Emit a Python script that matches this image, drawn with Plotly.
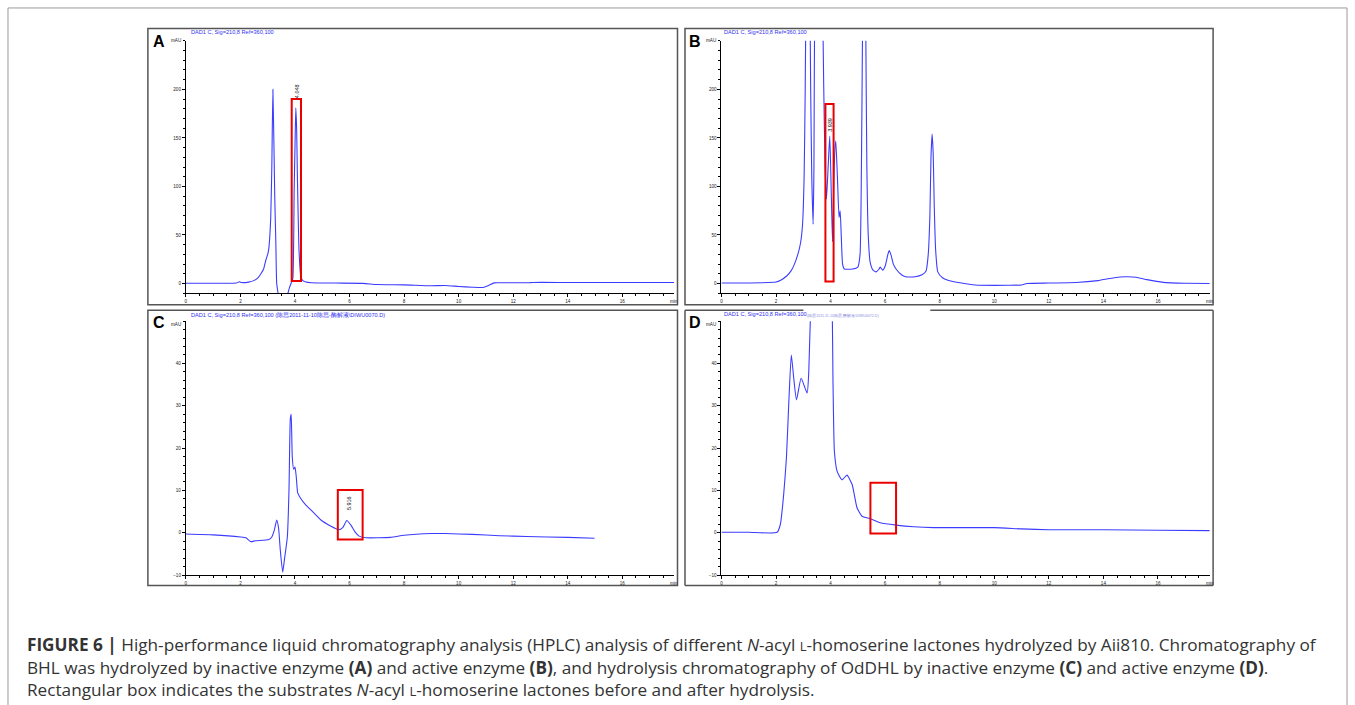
import plotly.graph_objects as go

# ---------------- data (retention time in min, absorbance in mAU) ----------------
a_t = [0, 1.0, 1.85, 1.96, 2.05, 2.3, 2.49, 2.65, 2.75, 2.85, 2.93, 3.0, 3.04, 3.08, 3.11, 3.15, 3.19,
       3.23, 3.26, 3.30, 3.33, 3.38, 3.42, 3.48, 3.55, 3.65, 3.74, 3.80, 3.88, 3.92, 3.97, 4.0, 4.03,
       4.06, 4.09, 4.12, 4.15, 4.21, 4.27, 4.4, 4.6, 5.5, 6.5, 7.0, 8.0, 9.0, 9.5, 10.0, 10.5, 10.9,
       11.1, 11.3, 11.6, 12.6, 12.7, 14.0, 16.0, 17.9]
a_y = [0.3, 0.3, 0.5, 1.8, 1.0, 1.5, 3, 6, 10, 15, 24, 30, 36, 50, 67, 118, 200,
       140, 87, 40, 0, -10, -16, -20, -22, -16, -10, -4, 2, 5, 97, 140, 181,
       160, 108, 65, 33, 8, 3.4, 1.5, 0.8, 0.5, 0.2, -1.0, -1.4, -2.3, -2.0, -3.0, -3.8, -4.0,
       -2.0, 0.7, 0.8, 0.8, 1.1, 1.1, 1.1, 1.1]

b_t = [0, 1.5, 2.0, 2.17, 2.4, 2.55, 2.66, 2.8, 2.9, 2.97, 3.03, 3.07, 3.10, 3.18, 3.24, 3.27,
       3.31, 3.36, 3.39, 3.42, 3.55, 3.70, 3.75, 3.80, 3.85, 3.91, 3.97, 4.02, 4.07, 4.13, 4.19,
       4.25, 4.31, 4.35, 4.39, 4.44, 4.5, 4.8, 5.0, 5.08, 5.13, 5.17, 5.23, 5.29, 5.33, 5.38, 5.45,
       5.55, 5.66, 5.78, 5.82, 5.91, 6.0, 6.1, 6.15, 6.22, 6.3, 6.4, 6.6, 6.75, 7.1, 7.35, 7.5,
       7.58, 7.64, 7.68, 7.72, 7.76, 7.8, 7.85, 7.93, 8.1, 8.3, 8.8, 9.3, 10.5, 11.0, 11.2, 12.0,
       13.0, 13.8, 14.4, 14.8, 15.2, 15.6, 16.2, 17.0, 17.9]
b_y = [0.5, 0.8, 1.5, 3.4, 8, 13, 19, 30, 42, 60, 110, 200, 300, 400, 300, 200,
       110, 61, 120, 300, 450, 300, 200, 120, 87, 120, 152, 100, 43, 120, 147,
       110, 68, 75, 50, 20, 15, 15, 17, 30, 120, 260, 500, 260, 120, 50, 22,
       14, 12, 15, 17, 13.7, 18, 30, 34, 29, 20, 15, 9, 7, 7, 9, 13,
       30, 70, 130, 154, 135, 80, 35, 12, 6, 3.4, 0.5, -1.5, -1.8, -1.5, 0, 0.5,
       1, 3, 6, 7, 6.5, 4, 1.2, 0.3, 0]

c_t = [0, 1.0, 2.0, 2.2, 2.38, 2.55, 3.04, 3.15, 3.25, 3.33, 3.40, 3.46, 3.55, 3.62, 3.72,
       3.78, 3.83, 3.86, 3.90, 3.95, 4.0, 4.05, 4.1, 4.2, 4.4, 4.58, 4.95, 5.3, 5.6, 5.75, 5.9,
       6.05, 6.2, 6.35, 6.6, 7.5, 8.0, 9.0, 9.5, 10.5, 11.5, 12.5, 14.0, 14.98]
c_y = [-0.3, -0.5, -1.0, -1.2, -2.1, -1.9, -1.6, -1.0, 0.8, 3.0, 1.0, -4, -9.3, -6, -1,
       10, 27, 28, 18, 15, 15.5, 13, 9.4, 8.2, 6.5, 5.4, 3.0, 1.6, 0.7, 1.2, 2.9,
       1.8, 0.2, -0.8, -1.2, -1.1, -0.6, -0.2, -0.2, -0.4, -0.7, -0.9, -1.1, -1.3]

d_t = [0, 1.0, 2.04, 2.16, 2.28, 2.38, 2.47, 2.56, 2.65, 2.75, 2.92, 3.14, 3.2, 3.28, 3.5, 3.8,
       4.05, 4.09, 4.14, 4.24, 4.42, 4.6, 4.79, 4.97, 5.15, 5.46, 5.82, 6.4, 7.05, 7.78, 10.0,
       11.0, 12.0, 14.0, 16.0, 17.9]
d_y = [0.1, 0.1, 0.1, 2, 9, 17.6, 31, 42, 36.5, 31.4, 36.5, 33, 38, 55, 80, 80,
       55, 35, 19.2, 14.5, 12.5, 13.6, 11.4, 5.9, 3.9, 3.3, 2.35, 1.8, 1.4, 1.2, 1.2,
       0.9, 0.7, 0.7, 0.6, 0.5]

# red boxes [t0, t1, y0, y1]
box_a = [3.88, 4.22, 2.5, 190]
box_b = [3.81, 4.11, 2, 185]
box_c = [5.57, 6.48, -1.6, 10.1]
box_d = [5.46, 6.40, -0.2, 11.8]

# peak labels (time label, position t, y)
peak_a = ["4.048", 4.07, 198]
peak_b = ["3.939", 4.0, 163]
peak_c = ["5.916", 5.98, 7]

header = "DAD1 C, Sig=210,8 Ref=360,100"
header_c = header + " (陈思2011-11-10陈思-酶解液\\DIWU0070.D)"
header_d_extra = "(陈思2011-11-10陈思-酶解液\\DIWU0072.D)"

x_ticks = [0, 2, 4, 6, 8, 10, 12, 14, 16]
y_ticks_ab = [0, 50, 100, 150, 200]
y_ticks_cd = [-10, 0, 10, 20, 30, 40]
X_MAX = 17.9

# ---------------- layout helpers ----------------
W, H = 1355, 705
def px(x): return x / W
def py(y): return 1 - y / H

LINE = "rgb(60,60,255)"
TF = dict(size=4.6, family="Liberation Sans", color="#222")

def xax(x0, x1, y_anchor):
    return dict(domain=[px(x0), px(x1)], anchor=y_anchor, range=[0, X_MAX],
                showline=True, linecolor="black", linewidth=1, ticks="outside",
                ticklen=3, tickcolor="black", tickwidth=1, tickvals=x_ticks,
                tickfont=TF, showgrid=False, zeroline=False, fixedrange=True,
                minor=dict(dtick=0.5, tick0=0, ticks="outside", ticklen=2,
                           tickcolor="black", showgrid=False))

def yax(y_top, y_bot, x_anchor, rng, tv, mdtick):
    return dict(domain=[py(y_bot), py(y_top)], anchor=x_anchor, range=rng,
                showline=True, linecolor="black", linewidth=1, ticks="outside",
                ticklen=3, tickcolor="black", tickwidth=1, tickvals=tv,
                tickfont=TF, showgrid=False, zeroline=False, fixedrange=True,
                minor=dict(dtick=mdtick, tick0=0, ticks="outside", ticklen=2,
                           tickcolor="black", showgrid=False))

fig = go.Figure()
panels = [
    ("x", "y", a_t, a_y),
    ("x2", "y2", b_t, b_y),
    ("x3", "y3", c_t, c_y),
    ("x4", "y4", d_t, d_y),
]
for xa, ya, t, y in panels:
    fig.add_trace(go.Scatter(x=t, y=y, xaxis=xa, yaxis=ya, mode="lines",
                             line=dict(color=LINE, width=1.1, shape="spline", smoothing=0.5),
                             showlegend=False, hoverinfo="skip", cliponaxis=True))

AX0, AX1 = 185, 185 + X_MAX * 27.3
BX0, BX1 = 721, 721 + X_MAX * 27.3
TOP1, BOT1 = 41, 294.5
TOP2, BOT2 = 322.5, 577.5

fig.update_layout(
    width=W, height=H, margin=dict(l=0, r=0, t=0, b=0),
    paper_bgcolor="white", plot_bgcolor="white",
    xaxis=xax(AX0, AX1, "y"), yaxis=yax(TOP1, BOT1, "x", [-10, 250], y_ticks_ab, 10),
    xaxis2=xax(BX0, BX1, "y2"), yaxis2=yax(TOP1, BOT1, "x2", [-10, 250], y_ticks_ab, 10),
    xaxis3=xax(AX0, AX1, "y3"), yaxis3=yax(TOP2, BOT2, "x3", [-10, 50], y_ticks_cd, 2),
    xaxis4=xax(BX0, BX1, "y4"), yaxis4=yax(TOP2, BOT2, "x4", [-10, 50], y_ticks_cd, 2),
)

shapes = []
ann = []

# outer frame (bottom edge runs off the page)
for (x0, y0, x1, y1) in [(7, 8, 1347, 8), (7, 8, 7, 720), (1347, 8, 1347, 720)]:
    shapes.append(dict(type="line", xref="paper", yref="paper", x0=px(x0), x1=px(x1),
                       y0=py(y0), y1=py(y1), line=dict(color="#9a9a9a", width=1)))
# panel frames
FR = dict(color="#555", width=1.5)
for (l, t, r, b) in [(147, 28.5, 677, 306), (684.5, 28.5, 1213, 306), (147, 311.5, 677, 588)]:
    shapes.append(dict(type="rect", xref="paper", yref="paper", x0=px(l), x1=px(r),
                       y0=py(b), y1=py(t), line=FR))
# D frame with gap in the top edge
for (x0, y0, x1, y1) in [(684.5, 311.5, 684.5, 588), (684.5, 588, 1213, 588),
                         (1213, 311.5, 1213, 588), (684.5, 311.5, 803, 311.5),
                         (930, 311.5, 1213, 311.5)]:
    shapes.append(dict(type="line", xref="paper", yref="paper", x0=px(x0), x1=px(x1),
                       y0=py(y0), y1=py(y1), line=FR))

# red boxes
for (xa, ya, bx) in [("x", "y", box_a), ("x2", "y2", box_b), ("x3", "y3", box_c), ("x4", "y4", box_d)]:
    shapes.append(dict(type="rect", xref=xa, yref=ya, x0=bx[0], x1=bx[1], y0=bx[2], y1=bx[3],
                       line=dict(color="rgb(235,0,0)", width=2)))

# panel letters
for letter, x, y in [("A", 150, 42), ("B", 687, 42), ("C", 150, 324), ("D", 687, 324)]:
    ann.append(dict(text="<b>%s</b>" % letter, xref="paper", yref="paper", x=px(x), y=py(y),
                    xanchor="left", yanchor="middle", showarrow=False,
                    font=dict(size=16, family="Liberation Sans", color="black")))

# headers
HF = dict(size=5.6, family="Liberation Sans", color="rgb(50,50,240)")
for text, x, y in [(header, 188, 32), (header, 722, 32), (header_c, 188, 315.5), (header, 722, 315)]:
    ann.append(dict(text=text, xref="paper", yref="paper", x=px(x), y=py(y),
                    xanchor="left", yanchor="middle", showarrow=False, font=HF))
ann.append(dict(text=header_d_extra, xref="paper", yref="paper", x=px(805), y=py(317),
                xanchor="left", yanchor="middle", showarrow=False,
                font=dict(size=3.6, family="Liberation Sans", color="rgb(140,140,220)")))

# mAU / min axis captions
for x, y in [(182, TOP1), (718, TOP1), (182, TOP2 + 3), (718, TOP2 + 3)]:
    ann.append(dict(text="mAU", xref="paper", yref="paper", x=px(x), y=py(y),
                    xanchor="right", yanchor="middle", showarrow=False, font=TF))
for x, y in [(AX1, BOT1 + 8), (BX1, BOT1 + 8), (AX1, BOT2 + 8), (BX1, BOT2 + 8)]:
    ann.append(dict(text="min", xref="paper", yref="paper", x=px(x), y=py(y),
                    xanchor="center", yanchor="middle", showarrow=False, font=TF))

# peak labels (rotated)
PF = dict(size=5.5, family="Liberation Sans", color="#111")
for (xa, ya, pk) in [("x", "y", peak_a), ("x2", "y2", peak_b), ("x3", "y3", peak_c)]:
    ann.append(dict(text=pk[0], xref=xa, yref=ya, x=pk[1], y=pk[2], textangle=-90,
                    showarrow=False, xanchor="center", yanchor="middle", font=PF))

# caption
CF = dict(size=17.2, family="Open Sans", color="#333")
L = "<span style='font-size:13px'>L</span>"
cap = [
    "<b>FIGURE 6 |</b> High-performance liquid chromatography analysis (HPLC) analysis of different "
    "<i>N</i>-acyl " + L + "-homoserine lactones hydrolyzed by Aii810. Chromatography of",
    "BHL was hydrolyzed by inactive enzyme <b>(A)</b> and active enzyme <b>(B)</b>, and hydrolysis "
    "chromatography of OdDHL by inactive enzyme <b>(C)</b> and active enzyme <b>(D)</b>.",
    "Rectangular box indicates the substrates <i>N</i>-acyl " + L + "-homoserine lactones before and after hydrolysis.",
]
for i, line in enumerate(cap):
    ann.append(dict(text=line, xref="paper", yref="paper", x=px(24), y=py(647.5 + 22.6 * i),
                    xanchor="left", yanchor="middle", showarrow=False, font=CF))

fig.update_layout(shapes=shapes, annotations=ann)
fig.write_html("out.html", config={"displayModeBar": False},
               post_script="document.body.style.margin='0px';document.body.style.overflow='hidden';")
